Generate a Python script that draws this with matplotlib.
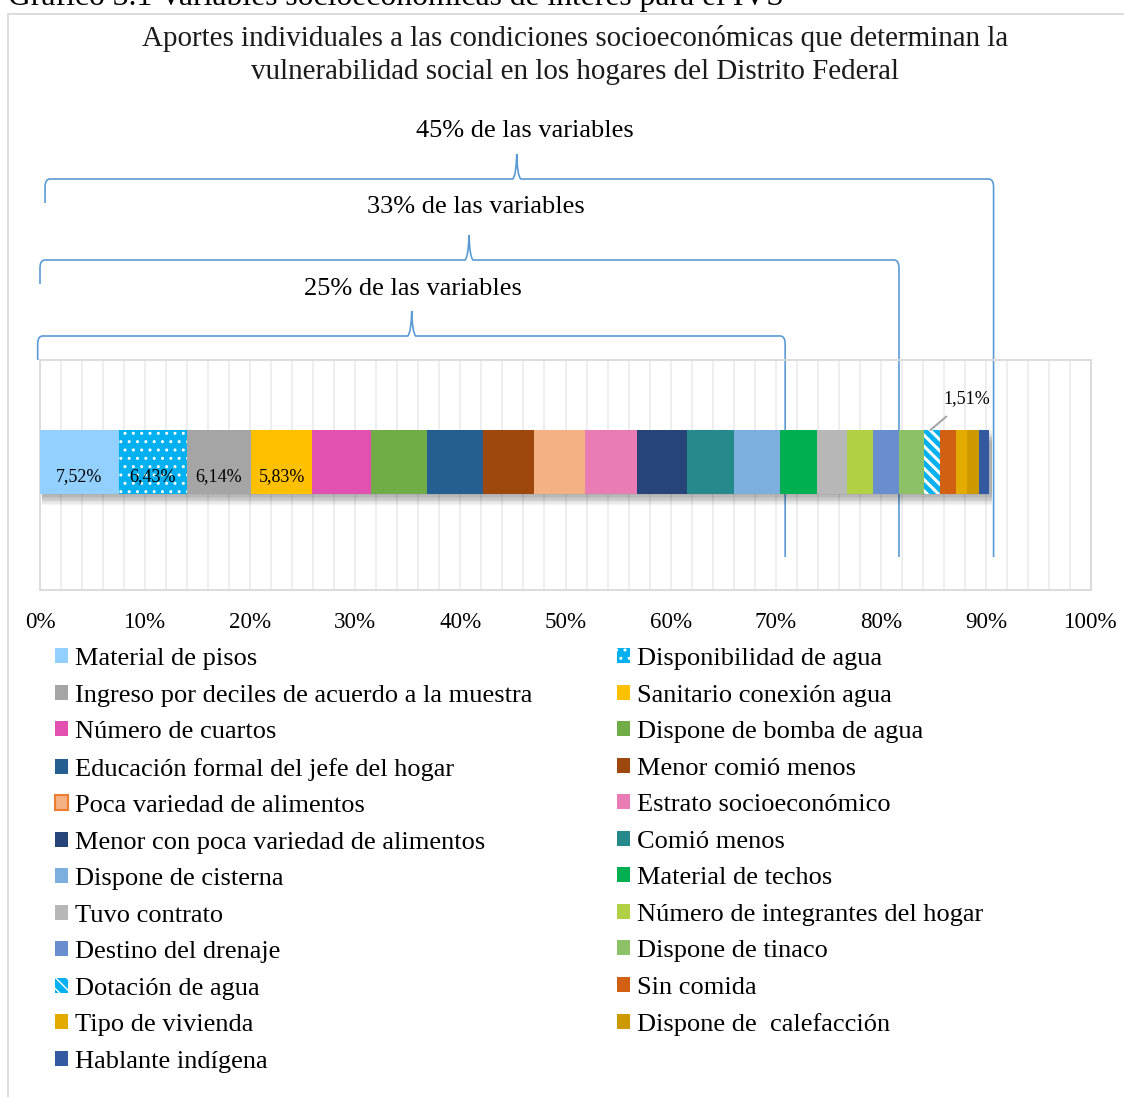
import numpy as np
import matplotlib
matplotlib.use('Agg')
import matplotlib.pyplot as plt
from matplotlib.patches import Patch, Rectangle, PathPatch
from matplotlib.path import Path
import matplotlib.transforms as mtransforms
import matplotlib.patheffects as pe

plt.rcParams['font.family'] = ['Liberation Serif', 'DejaVu Serif']
plt.rcParams['hatch.linewidth'] = 1.0

# ---------------- data ----------------
categories = [
    "Material de pisos", "Disponibilidad de agua",
    "Ingreso por deciles de acuerdo a la muestra", "Sanitario conexión agua",
    "Número de cuartos", "Dispone de bomba de agua",
    "Educación formal del jefe del hogar", "Menor comió menos",
    "Poca variedad de alimentos", "Estrato socioeconómico",
    "Menor con poca variedad de alimentos", "Comió menos",
    "Dispone de cisterna", "Material de techos",
    "Tuvo contrato", "Número de integrantes del hogar",
    "Destino del drenaje", "Dispone de tinaco",
    "Dotación de agua", "Sin comida",
    "Tipo de vivienda", "Dispone de  calefacción",
    "Hablante indígena",
]
values = [7.52, 6.43, 6.14, 5.83, 5.62, 5.24, 5.33, 4.86, 4.86, 4.95, 4.76, 4.48,
          4.38, 3.52, 2.89, 2.45, 2.48, 2.38, 1.51, 1.50, 1.11, 1.08, 1.02]
colors = ['#92D0FF', '#00B0F0', '#A5A5A5', '#FFC000', '#E250B0', '#70AD47',
          '#255E91', '#9E480E', '#F4B183', '#E97BB5', '#264478', '#268A8C',
          '#7CAFDD', '#00B050', '#B7B7B7', '#B2D045', '#698ED0', '#8CC168',
          '#00B0F0', '#D26012', '#E3AB00', '#CC9A00', '#335AA1']
hatches = [None, '..', None, None, None, None, None, None, None, None, None, None,
           None, None, None, None, None, None, '\\\\\\', None, None, None, None]
shown_labels = {0: "7,52%", 1: "6,43%", 2: "6,14%", 3: "5,83%"}
callout_index = 18
callout_text = "1,51%"
tick_values = list(range(0, 101, 10))
tick_labels = [f"{v}%" for v in tick_values]

bracket_labels = ["45% de las variables", "33% de las variables", "25% de las variables"]
bracket_start = [0.48, 0.0, -0.22]
bracket_peak = [45.36, 40.82, 35.37]
bracket_end = [90.73, 81.73, 70.9]
bracket_label_x = [46.1, 41.5, 35.5]
bracket_y_px = [179, 260, 336]
bracket_label_y_px = [131, 207, 289]

title_lines = ["Aportes individuales a las condiciones socioeconómicas que determinan la",
               "vulnerabilidad social en los hogares del Distrito Federal"]
heading = "Gráfico 3.1 Variables socioeconómicas de interés para el IVS"

# ---------------- figure ----------------
W, H = 1124, 1097
fig = plt.figure(figsize=(W / 100, H / 100), dpi=100)
fig.patch.set_facecolor('white')


def fx(p):
    return p / W


def fy(p):
    return 1 - p / H


# chart-area border and cut heading
fig.add_artist(Rectangle((fx(8), fy(1110)), fx(1140) - fx(8), fy(14) - fy(1110),
                         transform=fig.transFigure, fill=False,
                         edgecolor='#D9D9D9', lw=1.3))
fig.text(fx(8), fy(5), heading, ha='left', va='baseline', fontsize=22.8, color='black')

for i, line in enumerate(title_lines):
    fig.text(fx(575), fy([39, 72][i]), line, ha='center', va='center',
             fontsize=20.9, color='#1a1a1a')

ax = fig.add_axes([fx(40), fy(590), (1091 - 40) / W, 230 / H])
ax.set_xlim(0, 100)
ax.set_ylim(0, 1)
ax.set_autoscale_on(False)

bar_y = (590 - 462) / 230
bar_h = 64 / 230

ax.set_xticks(tick_values)
ax.set_xticklabels(tick_labels)
ax.set_xticks(np.arange(0, 101, 2), minor=True)
ax.set_yticks([])
ax.tick_params(axis='x', which='both', length=0, pad=16, labelsize=16.6)
ax.grid(axis='x', which='both', color='#EBEBEB', lw=1.2, zorder=0)
ax.set_axisbelow(True)
for s in ax.spines.values():
    s.set_color('#D9D9D9')
    s.set_linewidth(1.3)

# shadow bar under the stacked segments
total = sum(values)
shadow_effects = [pe.SimplePatchShadow(offset=(1.5, -k), shadow_rgbFace='#000000', alpha=0.045)
                  for k in range(1, 9)] + [pe.Normal()]
ax.barh(bar_y, total, height=bar_h, left=0, color='white', lw=0, zorder=2,
        path_effects=shadow_effects)

handles = []
lefts = np.concatenate([[0], np.cumsum(values)[:-1]])
for i, (name, v, c, h) in enumerate(zip(categories, values, colors, hatches)):
    bc = ax.barh(bar_y, v, height=bar_h, left=lefts[i], color=c,
                 hatch=h, edgecolor='white' if h else c, lw=0, zorder=3, label=name)
    if h and '\\' in h:
        for p in bc.patches:
            if hasattr(p, 'set_hatch_linewidth'):
                p.set_hatch_linewidth(2.2)
    handles.append(bc)

# data labels
for i, txt in shown_labels.items():
    ax.text(lefts[i] + values[i] / 2, bar_y - 15 / 230, txt, ha='center', va='center',
            fontsize=13, color='black', zorder=5)

cx = lefts[callout_index] + values[callout_index] * 0.4
ax.annotate(callout_text, xy=(cx, bar_y + bar_h / 2), xytext=(88.2, (590 - 399) / 230),
            ha='center', va='center', fontsize=13, color='black',
            arrowprops=dict(arrowstyle='-', color='#A6A6A6', lw=1.5, shrinkA=7, shrinkB=0),
            annotation_clip=False, zorder=5)

# braces
blend = mtransforms.blended_transform_factory(ax.transData, fig.transFigure)
d = 100 / 1051
for x0, xm, x1, yp, lab, lx, ly in zip(bracket_start, bracket_peak, bracket_end,
                                        bracket_y_px, bracket_labels, bracket_label_x,
                                        bracket_label_y_px):
    verts = [(x0, fy(yp + 24)), (x0, fy(yp + 8)),
             (x0, fy(yp)), (x0 + 5 * d, fy(yp)),
             (xm - 4 * d, fy(yp)),
             (xm - 0.6 * d, fy(yp - 3)), (xm, fy(yp - 25)),
             (xm + 0.6 * d, fy(yp - 3)), (xm + 4 * d, fy(yp)),
             (x1 - 5 * d, fy(yp)),
             (x1, fy(yp)), (x1, fy(yp + 8)),
             (x1, fy(557))]
    codes = [Path.MOVETO, Path.LINETO,
             Path.CURVE3, Path.CURVE3,
             Path.LINETO,
             Path.CURVE3, Path.CURVE3,
             Path.CURVE3, Path.CURVE3,
             Path.LINETO,
             Path.CURVE3, Path.CURVE3,
             Path.LINETO]
    pp = PathPatch(Path(verts, codes), fill=False, edgecolor='#5B9BD5', lw=1.2,
                   transform=blend, clip_on=False, zorder=1)
    ax.add_artist(pp)
    fig.text(fx(40 + lx * 10.51), fy(ly), lab, ha='center', va='center', fontsize=19)

# legend (row-wise order like the original)
leg_handles = list(handles)
leg_handles[8] = Patch(facecolor=colors[8], edgecolor='#ED7D31', lw=1.5)
order = list(range(0, len(categories), 2)) + list(range(1, len(categories), 2))
fig.legend([leg_handles[i] for i in order], [categories[i] for i in order],
           ncol=2, loc='upper left', bbox_to_anchor=(fx(55), fy(648)),
           frameon=False, fontsize=19, handlelength=0.5, handleheight=0.5,
           handletextpad=0.27, columnspacing=3.2, labelspacing=0.55,
           borderpad=0, borderaxespad=0)

fig.savefig('out.png', dpi=100, facecolor='white')
